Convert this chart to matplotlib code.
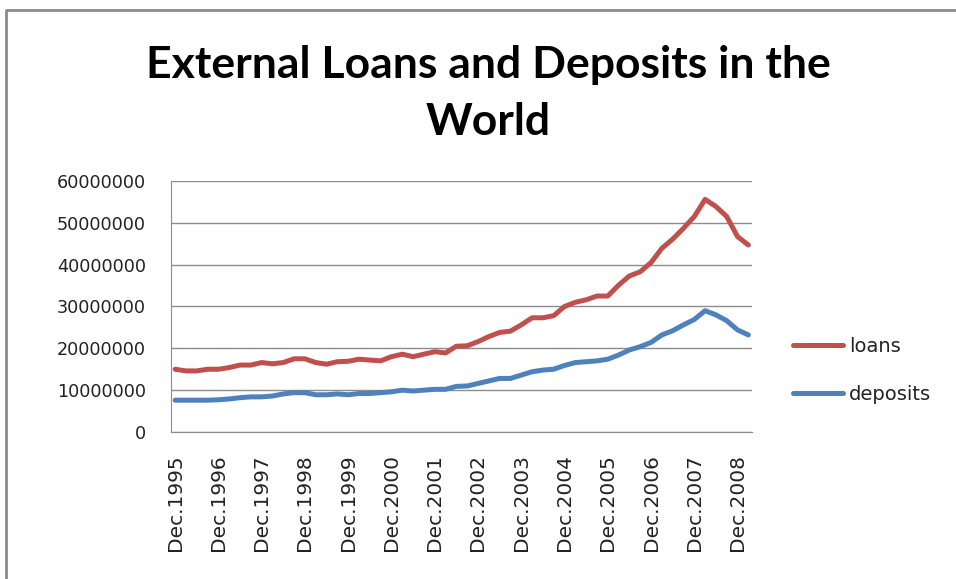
import matplotlib.pyplot as plt
from matplotlib.lines import Line2D

# quarterly series, Dec.1995 .. Mar.2009 (values in millions)
loans_mn = [15.0, 14.6, 14.6, 15.0, 15.0, 15.4, 16.0, 16.0, 16.6, 16.3,
            16.6, 17.5, 17.5, 16.6, 16.2, 16.8, 16.9, 17.4, 17.2, 17.0,
            18.0, 18.6, 18.0, 18.6, 19.2, 18.9, 20.5, 20.6, 21.6, 22.8,
            23.8, 24.1, 25.6, 27.3, 27.3, 27.8, 30.0, 31.0, 31.6, 32.5,
            32.5, 35.1, 37.3, 38.3, 40.5, 43.9, 46.1, 48.7, 51.5, 55.6,
            53.9, 51.5, 46.7, 44.7]
deposits_mn = [7.6, 7.6, 7.6, 7.6, 7.7, 7.9, 8.2, 8.4, 8.4, 8.6,
               9.1, 9.4, 9.4, 8.9, 8.9, 9.1, 8.9, 9.2, 9.2, 9.4,
               9.6, 10.0, 9.8, 10.0, 10.2, 10.2, 10.9, 11.0, 11.6, 12.2,
               12.8, 12.8, 13.6, 14.4, 14.8, 15.0, 15.9, 16.6, 16.8, 17.0,
               17.4, 18.4, 19.6, 20.4, 21.4, 23.2, 24.2, 25.6, 26.9, 29.0,
               28.0, 26.6, 24.4, 23.2]
tick_labels = ["Dec.1995", "Dec.1996", "Dec.1997", "Dec.1998", "Dec.1999",
               "Dec.2000", "Dec.2001", "Dec.2002", "Dec.2003", "Dec.2004",
               "Dec.2005", "Dec.2006", "Dec.2007", "Dec.2008"]
y_ticks = [0, 10000000, 20000000, 30000000, 40000000, 50000000, 60000000]

loans = [v * 1e6 for v in loans_mn]
deposits = [v * 1e6 for v in deposits_mn]
x = list(range(len(loans)))

fig = plt.figure(figsize=(9.56, 5.79), dpi=100)
ax = fig.add_axes([0.179, 0.2539, 0.608, 0.4335])

ax.plot(x, loans, color="#C0504D", linewidth=3.6, label="loans",
        solid_capstyle="round", solid_joinstyle="round")
ax.plot(x, deposits, color="#4F81BD", linewidth=3.6, label="deposits",
        solid_capstyle="round", solid_joinstyle="round")

ax.set_xlim(-0.37, 53.37)
ax.set_ylim(0, 60000000)
ax.set_yticks(y_ticks)
ax.set_yticklabels([str(v) for v in y_ticks])
ax.set_xticks(range(0, len(x), 4))
ax.set_xticklabels(tick_labels, rotation=90)
ax.tick_params(axis="y", length=0, pad=18, labelsize=12.7, colors="#222222")
ax.tick_params(axis="x", length=0, pad=16, labelsize=14.5, colors="#222222")
for lab in ax.get_xticklabels():
    lab.set_verticalalignment("top")

ax.grid(axis="y", color="#8c8c8c", linewidth=1.0)
ax.set_axisbelow(True)
ax.spines["top"].set_visible(False)
ax.spines["right"].set_visible(False)
ax.spines["left"].set_color("#8c8c8c")
ax.spines["bottom"].set_color("#8c8c8c")

leg = fig.legend(loc="center left", bbox_to_anchor=(0.811, 0.36),
                 frameon=False, fontsize=14, handlelength=2.6,
                 handletextpad=0.3, labelspacing=1.5)
for t in leg.get_texts():
    t.set_color("#222222")

fig.text(0.5105, 0.888, "External Loans and Deposits in the", ha="center",
         va="center", fontsize=32, fontweight="bold", family="Lato")
fig.text(0.5105, 0.79, "World", ha="center", va="center", fontsize=32,
         fontweight="bold", family="Lato")

# chart frame on the top and left edges
fy = 1 - 10 / 579
fx = 6 / 956
fig.add_artist(Line2D([fx, fx, 1], [0, fy, fy], transform=fig.transFigure,
                      color="#8a8a8a", linewidth=2))

fig.savefig("out.png", dpi=100)
